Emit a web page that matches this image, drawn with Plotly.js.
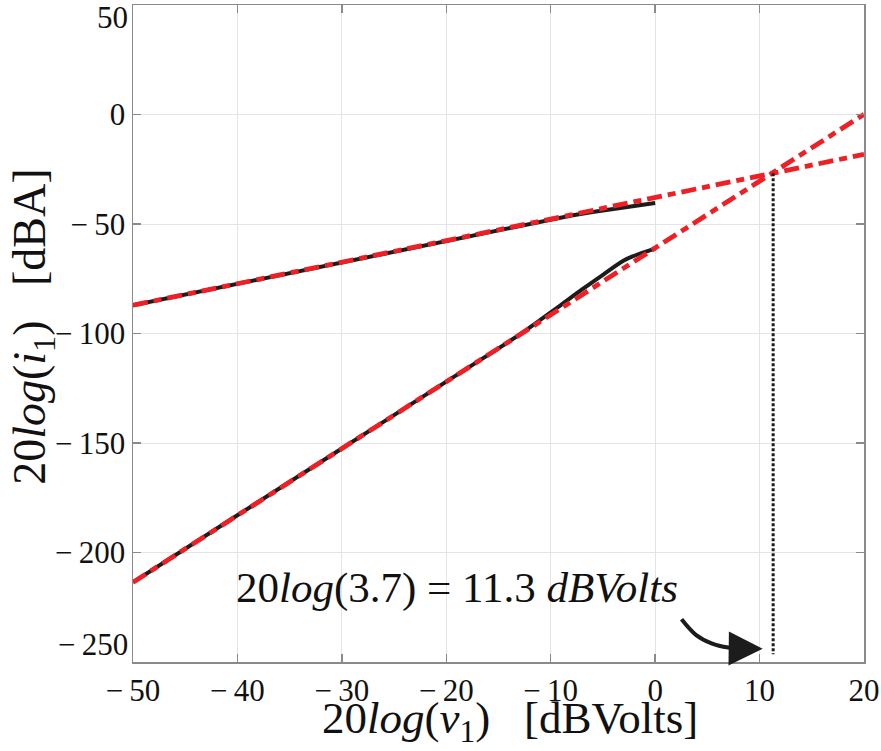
<!DOCTYPE html>
<html>
<head>
<meta charset="utf-8">
<script src="https://cdn.plot.ly/plotly-3.0.1.min.js"></script>
<style>html,body{margin:0;padding:0;background:#fff;}#chart{width:881px;height:751px;}</style>
</head>
<body>
<div id="chart"></div>
<script>
// Measured curves (black, solid)
var upperX = [-50, -40, -30, -20, -10, -8, -6, -4, -2, 0];
var upperY = [-87.1, -77.3, -67.4, -57.6, -47.8, -46.1, -44.5, -43.0, -41.7, -40.4];
var lowerX = [-50, -40, -30, -20, -15, -13, -11, -9, -7, -5, -3, -2, -1, 0];
var lowerY = [-213.6, -183.0, -152.5, -122.0, -106.8, -100.5, -93.8, -86.9, -79.9, -73.2, -66.7, -64.5, -62.8, -61.2];
// Asymptotes (red, dash-dot)
var asymUpperX = [-50, 20];
var asymUpperY = [-87.1, -18.2];
var asymLowerX = [-50, 20];
var asymLowerY = [-213.6, 0.1];
// Intercept marker (dotted vertical)
var interceptX = [11.3, 11.3];
var interceptY = [-26.8, -246.5];
// Curved arrow pointing to intercept
var arrowX = [2.53, 3.9, 5.4, 7.0, 8.6];
var arrowY = [-230.5, -237.6, -241.5, -243.4, -243.9];
var arrowTip = {x: 10.3, y: -244.0};
var noteText = '20<i>log</i>(3.7) = 11.3 <i>dBVolts</i>';
var noteAt = {x: -18.95, y: -216.3};
var xTicks = [-50, -40, -30, -20, -10, 0, 10, 20];
var yTicks = [50, 0, -50, -100, -150, -200, -250];

var RED = '#ee2026', BLK = '#1c1c1c';
var FONT = 'Liberation Serif, Times New Roman, serif';
function fmt(v) { return v < 0 ? '\u2212\u2009' + Math.abs(v) : String(v); }
var xTickText = xTicks.map(fmt);
// the two end labels of the y axis are pulled inside the frame, as in the reference
var yLast = yTicks.length - 1;
var yTickText = yTicks.map(function (v, i) { return (i === 0 || i === yLast) ? '' : fmt(v); });

var traces = [
  {x: upperX, y: upperY, mode: 'lines', line: {color: BLK, width: 4}, hoverinfo: 'skip'},
  {x: lowerX, y: lowerY, mode: 'lines', line: {color: BLK, width: 4, shape: 'spline'}, hoverinfo: 'skip'},
  {x: asymUpperX, y: asymUpperY, mode: 'lines', line: {color: RED, width: 4.8, dash: '15px,6px,8px,6px'}, hoverinfo: 'skip'},
  {x: asymLowerX, y: asymLowerY, mode: 'lines', line: {color: RED, width: 4.8, dash: '15px,6px,8px,6px'}, hoverinfo: 'skip'},
  {x: interceptX, y: interceptY, mode: 'lines', line: {color: BLK, width: 3, dash: '3px,2px'}, hoverinfo: 'skip'},
  {x: arrowX, y: arrowY, mode: 'lines', line: {color: BLK, width: 4, shape: 'spline'}, hoverinfo: 'skip'}
];

var axisCommon = {
  showgrid: true, gridcolor: '#e4e4e4', gridwidth: 1,
  showline: true, linecolor: '#8a8a8a', linewidth: 1.5, mirror: 'ticks',
  ticks: 'inside', ticklen: 8, tickcolor: '#8a8a8a', tickwidth: 1.5,
  zeroline: false, ticklabeloverflow: 'allow',
  tickfont: {family: FONT, size: 31, color: '#111'}
};

var layout = {
  width: 881, height: 751,
  margin: {l: 133, r: 17, t: 5, b: 89},
  paper_bgcolor: '#fff', plot_bgcolor: '#fff',
  showlegend: false,
  xaxis: Object.assign({}, axisCommon, {range: [-50, 20], tickmode: 'array', tickvals: xTicks, ticktext: xTickText}),
  yaxis: Object.assign({}, axisCommon, {range: [-250, 50], tickmode: 'array', tickvals: yTicks, ticktext: yTickText}),
  annotations: [
    {x: -0.004, y: yTicks[0], xref: 'paper', yref: 'y', xanchor: 'right', yanchor: 'top', yshift: 7,
     text: fmt(yTicks[0]), showarrow: false, font: {family: FONT, size: 31, color: '#111'}},
    {x: -0.004, y: yTicks[yLast], xref: 'paper', yref: 'y', xanchor: 'right', yanchor: 'bottom', yshift: -2,
     text: fmt(yTicks[yLast]), showarrow: false, font: {family: FONT, size: 31, color: '#111'}},
    {x: noteAt.x, y: noteAt.y, xref: 'x', yref: 'y', text: noteText, showarrow: false,
     font: {family: FONT, size: 43, color: '#111'}},
    {x: arrowTip.x, y: arrowTip.y, xref: 'x', yref: 'y', ax: arrowX[arrowX.length - 1], ay: arrowY[arrowY.length - 1],
     axref: 'x', ayref: 'y', text: ' ', showarrow: true, arrowhead: 2, arrowsize: 1.7, arrowwidth: 4, arrowcolor: BLK},
    {x: 0.516, y: -0.09, xref: 'paper', yref: 'paper', xanchor: 'center', yanchor: 'middle', showarrow: false,
     text: '20<i>log</i>(<i>v</i><sub>1</sub>)   [dBVolts]',
     font: {family: FONT, size: 45, color: '#111'}},
    {x: -0.137, y: 0.51, xref: 'paper', yref: 'paper', xanchor: 'center', yanchor: 'middle', showarrow: false, textangle: -90,
     text: '20<i>log</i>(<i>i</i><sub>1</sub>)   [dBA]',
     font: {family: FONT, size: 46, color: '#111'}}
  ]
};

Plotly.newPlot('chart', traces, layout, {staticPlot: true, displayModeBar: false});
</script>
</body>
</html>
